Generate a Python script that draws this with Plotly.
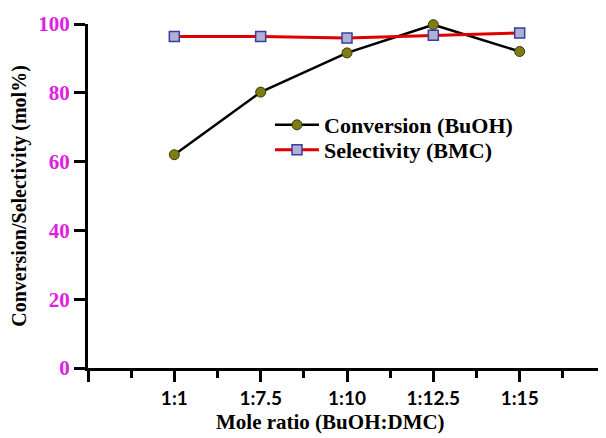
import plotly.graph_objects as go

categories = ["1:1", "1:7.5", "1:10", "1:12.5", "1:15"]
conversion = [62.0, 80.2, 91.6, 99.8, 92.0]
selectivity = [96.4, 96.4, 95.9, 96.7, 97.4]
y_ticks = [0, 20, 40, 60, 80, 100]

xpos = list(range(1, len(categories) + 1))

fig = go.Figure()
fig.add_trace(go.Scatter(
    x=xpos, y=conversion, name="Conversion (BuOH)", mode="lines+markers",
    line=dict(color="black", width=2.5),
    marker=dict(symbol="circle", size=10, color="#7d7d12", line=dict(color="#3a3a10", width=1)),
    cliponaxis=False, legend="legend",
))
fig.add_trace(go.Scatter(
    x=xpos, y=selectivity, name="Selectivity (BMC)", mode="lines+markers",
    line=dict(color="#e00000", width=3),
    marker=dict(symbol="square", size=10, color="#aeb0d6", line=dict(color="#3a3ca0", width=1.5)),
    cliponaxis=False, legend="legend2",
))

serif = "Liberation Serif, Times New Roman, serif"

# page has an 8px body margin; figure sized to fill the rest of the window
W, H = 598, 430
L, T, B = 80, 16, 70
PW, PH = W - L, H - T - B

legend_font = dict(family=serif, size=22, color="black", weight="bold")


def legend_at(px, py):
    return dict(
        x=(px - L) / PW, y=1 - (py - T) / PH, xanchor="left", yanchor="middle",
        font=legend_font, bgcolor="rgba(0,0,0,0)", itemwidth=44,
    )


fig.update_layout(
    width=W, height=H,
    margin=dict(l=L, r=0, t=T, b=B, autoexpand=False),
    paper_bgcolor="white", plot_bgcolor="white",
    showlegend=True,
    legend=legend_at(262, 117),
    legend2=legend_at(262, 142),
    xaxis=dict(
        range=[0, 6], showgrid=False, zeroline=False,
        showline=True, linecolor="black", linewidth=3,
        tickvals=[0] + xpos + [len(categories) + 1],
        ticktext=[""] + categories + [""],
        ticks="outside", ticklen=11, tickwidth=3, tickcolor="black",
        minor=dict(dtick=0.5, tick0=0, ticks="outside", ticklen=7, tickwidth=3, tickcolor="black", showgrid=False),
        tickfont=dict(family="Lato, sans-serif", size=19, color="black", weight="bold"),
    ),
    yaxis=dict(
        range=[0, 100], showgrid=False, zeroline=False,
        showline=True, linecolor="black", linewidth=3,
        tickvals=y_ticks, ticks="outside", ticklen=11, tickwidth=3, tickcolor="black",
        tickfont=dict(family=serif, size=21, color="#e020e0", weight="bold"),
        title=dict(text="Conversion/Selectivity (mol%)", standoff=12,
                   font=dict(family=serif, size=20, color="black", weight="bold")),
    ),
    annotations=[dict(
        text="Mole ratio (BuOH:DMC)", xref="paper", yref="paper",
        x=(322 - L) / PW, y=-(414 - (H - B)) / PH, xanchor="center", yanchor="middle",
        showarrow=False, font=dict(family=serif, size=21, color="black", weight="bold"),
    )],
)

fig.write_html("out.html")
